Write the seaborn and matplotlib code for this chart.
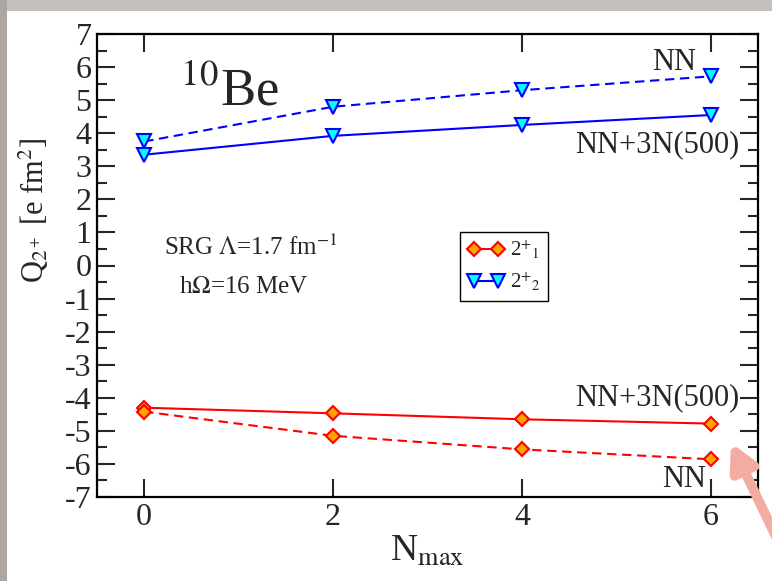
import matplotlib
matplotlib.use("Agg")
import matplotlib.pyplot as plt
import seaborn as sns
import numpy as np
from matplotlib.lines import Line2D
from matplotlib.patches import Rectangle

nmax = [0, 2, 4, 6]
q21_nn3n = [-4.30, -4.47, -4.65, -4.78]
q21_nn = [-4.42, -5.15, -5.56, -5.86]
q22_nn3n = [3.35, 3.92, 4.25, 4.55]
q22_nn = [3.75, 4.80, 5.30, 5.72]
yticks = list(range(-7, 8))
xticks = [0, 2, 4, 6]

sns.set_style("ticks")
plt.rcParams["font.family"] = ["Liberation Serif", "DejaVu Serif"]
plt.rcParams["mathtext.fontset"] = "stix"
plt.rcParams["axes.unicode_minus"] = False

fig = plt.figure(figsize=(7.72, 5.81), dpi=100)
ax = fig.add_axes([97/772, 1-497/581, (758-97)/772, (497-34)/581])

red_kw = dict(color="red", marker="D", markersize=7, markerfacecolor="orange",
              markeredgecolor="red", markeredgewidth=1.5, linewidth=1.5)
blue_kw = dict(color="blue", marker="v", markersize=10, markerfacecolor="cyan",
               markeredgecolor="blue", markeredgewidth=1.5, linewidth=1.5)
dash = (0, (4.5, 2.7))

sns.lineplot(x=nmax, y=q21_nn3n, ax=ax, linestyle="-", **red_kw)
sns.lineplot(x=nmax, y=q21_nn, ax=ax, linestyle=dash, **red_kw)
sns.lineplot(x=nmax, y=q22_nn3n, ax=ax, linestyle="-", **blue_kw)
sns.lineplot(x=nmax, y=q22_nn, ax=ax, linestyle=dash, **blue_kw)

ax.set_xlim(-0.5, 6.5)
ax.set_ylim(-7, 7)
ax.set_xticks(xticks)
ax.set_yticks(yticks)
ax.set_yticks(np.arange(-6.5, 7, 1.0), minor=True)
ax.tick_params(which="both", direction="in", top=True, right=True, width=1.5,
               labelsize=23, pad=4)
ax.tick_params(which="major", length=13)
ax.tick_params(which="minor", length=7)
for s in ax.spines.values():
    s.set_linewidth(1.6)
    s.set_color("black")

ax.set_xlabel(r"N$_{\mathrm{max}}$", fontsize=27, labelpad=2)
ax.set_ylabel(r"Q$_{2^+}$ [e fm$^2$]", fontsize=22)
ax.yaxis.set_label_coords(-0.07, 0.62)

ax.text(0.38, 4.85, r"$^{10}$Be", fontsize=38)
ax.text(5.85, 5.9, "NN", fontsize=22, ha="right")
ax.text(6.3, 3.43, "NN+3N(500)", fontsize=22, ha="right")
ax.text(6.3, -4.22, "NN+3N(500)", fontsize=22, ha="right")
ax.text(5.95, -6.7, "NN", fontsize=22, ha="right")
ax.text(0.21, 0.32, r"SRG $\Lambda$=1.7 fm$^{-1}$", fontsize=18)
ax.text(0.37, -0.83, r"h$\Omega$=16 MeV", fontsize=18)

h1 = Line2D([], [], linestyle="-", **red_kw)
h2 = Line2D([], [], linestyle="-", **blue_kw)
leg = ax.legend([h1, h2], [r"2$^{+}{}_{1}$", r"2$^{+}{}_{2}$"], loc="upper left",
                bbox_to_anchor=(460/772, 1-232/581), bbox_transform=fig.transFigure,
                borderaxespad=0, fancybox=False, framealpha=1, edgecolor="black",
                numpoints=2, handlelength=1.75, fontsize=15, borderpad=0.35,
                handletextpad=0.3, labelspacing=0.45)
leg.get_frame().set_linewidth(1.0)

# slide frame decoration
fig.patches.append(Rectangle((0, 1-11/581), 1, 11/581, transform=fig.transFigure,
                             facecolor="#c4bfba", edgecolor="none", zorder=-1))
fig.patches.append(Rectangle((0, 0), 7/772, 1, transform=fig.transFigure,
                             facecolor="#aca7a2", edgecolor="none", zorder=-1))
ax.annotate("", xy=(731, 581-443), xytext=(792, 581-570),
            xycoords="figure pixels", textcoords="figure pixels",
            arrowprops=dict(arrowstyle="-|>,head_length=1.5,head_width=0.8",
                            color="#f2aca2", lw=7, shrinkA=0, shrinkB=0),
            annotation_clip=False)

fig.savefig("out.png", dpi=100)
